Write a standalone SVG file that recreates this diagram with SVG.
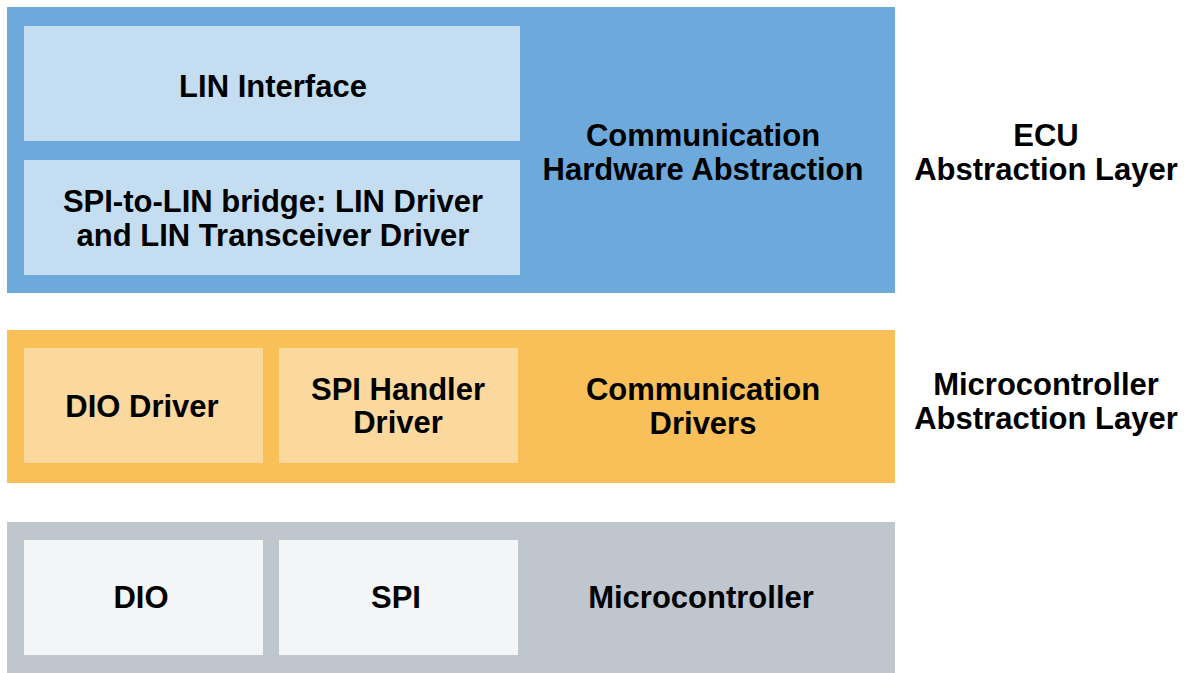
<svg xmlns="http://www.w3.org/2000/svg" width="1187" height="673" viewBox="0 0 1187 673">
<style>
text{font-family:"Liberation Sans",Arial,Helvetica,sans-serif;font-weight:bold;font-size:31px;fill:#000;text-anchor:middle}
.blue{fill:#6DAADB}.lblue{fill:#C5DDF0}
.orange{fill:#F9BF59}.lorange{fill:#FAD89E}
.gray{fill:#BFC6CD}.lgray{fill:#F4F5F7}
</style>
<rect width="1187" height="673" fill="#fff"/>
<g id="ecu-layer">
<rect class="blue" x="7" y="7" width="888" height="286"/>
<text x="703" y="146">Communication</text>
<text x="703" y="180">Hardware Abstraction</text>
</g>
<g id="lin-interface">
<rect class="lblue" x="24" y="26" width="496" height="115"/>
<text x="273" y="97">LIN Interface</text>
</g>
<g id="spi-to-lin">
<rect class="lblue" x="24" y="160" width="496" height="115"/>
<text x="273" y="212">SPI-to-LIN bridge: LIN Driver</text>
<text x="273" y="246">and LIN Transceiver Driver</text>
</g>
<g id="ecu-label">
<text x="1046" y="146">ECU</text>
<text x="1046" y="180">Abstraction Layer</text>
</g>
<g id="mcal-layer">
<rect class="orange" x="7" y="330" width="888" height="153"/>
<text x="703" y="400">Communication</text>
<text x="703" y="434">Drivers</text>
</g>
<g id="dio-driver">
<rect class="lorange" x="24" y="348" width="239" height="115"/>
<text x="142" y="417">DIO Driver</text>
</g>
<g id="spi-handler">
<rect class="lorange" x="279" y="348" width="239" height="115"/>
<text x="398" y="400">SPI Handler</text>
<text x="398" y="433">Driver</text>
</g>
<g id="mcal-label">
<text x="1046" y="395">Microcontroller</text>
<text x="1046" y="429">Abstraction Layer</text>
</g>
<g id="micro-layer">
<rect class="gray" x="7" y="522" width="888" height="151"/>
<text x="701" y="608">Microcontroller</text>
</g>
<g id="dio">
<rect class="lgray" x="24" y="540" width="239" height="115"/>
<text x="141" y="608">DIO</text>
</g>
<g id="spi">
<rect class="lgray" x="279" y="540" width="239" height="115"/>
<text x="396" y="608">SPI</text>
</g>
<g id="connectors"></g>
</svg>
